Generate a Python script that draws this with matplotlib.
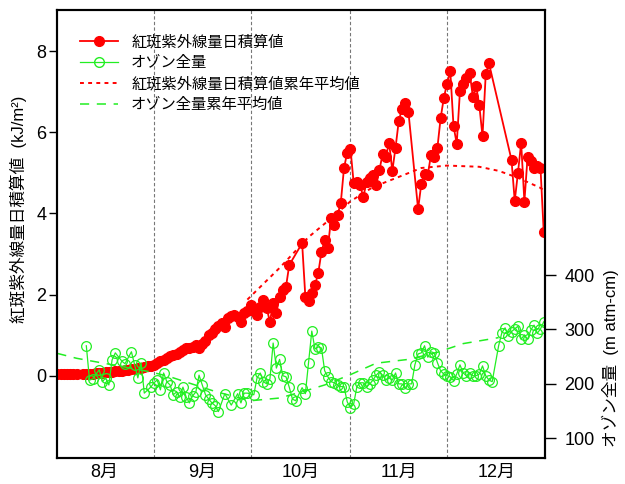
import numpy as np
import matplotlib
matplotlib.use('Agg')
import matplotlib.pyplot as plt
from matplotlib.lines import Line2D

plt.rcParams['font.family'] = ['Liberation Sans', 'Noto Sans CJK JP', 'DejaVu Sans']

# 日付は8月1日からの通日 (8/1 = 0)
uv_day = (list(range(1, 8)) + list(range(9, 74)) + list(range(77, 111))
          + list(range(113, 136)) + list(range(142, 153)))
uv_val = [0.05, 0.05, 0.05, 0.05, 0.05, 0.05, 0.05,
          0.05, 0.05, 0.06, 0.06, 0.07, 0.07, 0.08, 0.09, 0.10, 0.10, 0.11,
          0.12, 0.13, 0.14, 0.15, 0.16, 0.17, 0.19, 0.20, 0.22, 0.24, 0.25,
          # 9月
          0.28, 0.31, 0.36, 0.40, 0.44, 0.48, 0.52, 0.55, 0.60, 0.64,
          0.69, 0.68, 0.72, 0.75, 0.70, 0.78, 0.85, 1.00, 1.05, 1.15,
          1.22, 1.30, 1.20, 1.42, 1.48, 1.50, 1.45, 1.33, 1.55, 1.60,
          # 10月
          1.75, 1.60, 1.50, 1.70, 1.87, 1.67, 1.33, 1.80, 1.55, 1.95,
          2.12, 2.20, 2.73,
          3.27, 1.95, 1.85, 2.04, 2.24, 2.53, 3.05, 3.35, 3.15, 3.90,
          3.72, 3.97, 4.26, 5.12, 5.50, 5.60,
          # 11月
          4.75, 4.78, 4.70, 4.40, 4.78, 4.87, 4.95, 4.70, 5.07, 5.47,
          5.40, 5.74, 5.05, 5.62, 6.28, 6.58, 6.72, 6.50,
          4.11, 4.73, 4.98, 4.95, 5.44, 5.40, 5.62, 6.35, 6.85,
          # 12月
          7.20, 7.50, 6.15, 5.72, 7.02, 7.20, 7.33, 7.47, 6.88, 7.15,
          6.67, 5.90, 7.43, 7.70,
          5.32, 4.31, 5.00, 5.74, 4.29, 5.40, 5.30, 5.12, 5.17, 5.12, 3.55]

oz_day = [10, 11, 12, 14, 15, 16, 17, 18, 19, 21, 22, 24, 25, 26, 27, 28, 30,
          31, 32, 33, 34, 35, 36, 37, 38, 39, 40, 41, 42, 43, 44, 45, 46, 47,
          48, 49, 50, 51, 53, 55, 57, 58, 59, 60,
          62, 63, 64, 65, 66, 67, 68, 69, 70, 71, 72, 73, 74, 75, 77, 78, 79,
          80, 81, 82, 83, 84, 85, 86, 87, 88, 89, 90, 91,
          92, 93, 94, 95, 96, 97, 98, 99, 100, 101, 102, 103, 104, 105, 106,
          107, 108, 109, 110, 111, 112, 113, 114, 115, 116, 117, 118, 119,
          120, 121,
          122, 123, 124, 125, 126, 127, 128, 129, 130, 131, 132, 133, 134,
          135, 136, 138, 139, 140, 141, 142, 143, 144, 145, 146, 147, 148,
          149, 150, 151, 152]
oz_val = [270, 207, 209, 226, 204, 211, 198, 244, 257, 242, 237, 259, 235,
          211, 239, 183, 194,
          202, 207, 189, 220, 204, 198, 180, 185, 176, 194, 176, 165, 178,
          185, 216, 198, 180, 172, 165, 160, 149, 182, 161, 182, 165, 183,
          183,
          180, 211, 220, 204, 200, 209, 275, 229, 245, 215, 213, 194, 172,
          169, 193, 182, 239, 297, 264, 268, 266, 224, 213, 204, 202, 198,
          195, 195, 167,
          156, 163, 195, 202, 202, 195, 200, 207, 216, 222, 216, 207, 211,
          207, 220, 200, 200, 193, 200, 200, 235, 255, 257, 270, 249, 259,
          257, 239, 224, 218,
          215, 213, 206, 218, 235, 220, 215, 220, 215, 215, 218, 233, 215,
          207, 204, 270, 294, 303, 288, 296, 301, 306, 282, 290, 282, 299,
          308, 293, 301, 314]

# 累年平均値
uv_norm_day = [60, 70, 79, 86, 92, 99, 107, 114, 122, 132, 138, 144, 151, 152.4]
uv_norm_val = [1.88, 2.66, 3.42, 3.88, 4.30, 4.65, 4.90, 5.12, 5.18, 5.15,
               5.05, 4.88, 4.63, 4.55]
oz_norm_day = [1, 7, 20, 30, 36, 50, 61, 70, 79, 84, 92, 100, 110, 119, 127, 138]
oz_norm_val = [256, 247, 233, 222, 213, 186, 169, 174, 189, 198, 217, 238,
               245, 258, 274, 285]

month_start = [31, 61, 92, 122]
month_mid = [15.5, 46, 76.5, 107, 137.5]
month_lbl = ['8月', '9月', '10月', '11月', '12月']

uv_color = '#ff0000'
oz_color = '#22ee22'

fig = plt.figure(figsize=(6.25, 4.84), dpi=100)
ax1 = fig.add_axes([57 / 625, 26 / 484, 488 / 625, 448 / 484])
ax2 = ax1.twinx()

for d in month_start:
    ax1.axvline(d, color='#777777', lw=0.8, dashes=(3, 2), zorder=0)

ax1.plot(uv_norm_day, uv_norm_val, color=uv_color, lw=1.4, dashes=(2, 2.2),
         zorder=2)
ax1.plot(uv_day, uv_val, color=uv_color, lw=1.3, marker='o', ms=7,
         mfc=uv_color, mec=uv_color, zorder=3)

ax2.plot(oz_norm_day, oz_norm_val, color=oz_color, lw=1.1, dashes=(6, 5))
ax2.plot(oz_day, oz_val, color=oz_color, lw=0.9, marker='o', ms=7,
         mfc='none', mec=oz_color, mew=0.9)

ax1.set_xlim(0.9, 152.4)
ax1.set_ylim(-2.02, 9.01)
ax2.set_ylim(63.8, 887)

ax1.set_yticks([0, 2, 4, 6, 8])
ax2.set_yticks([100, 200, 300, 400])
ax1.set_xticks(month_mid)
ax1.set_xticklabels(month_lbl)

ax1.tick_params(axis='y', direction='out', length=6, width=1, labelsize=13, pad=1.5)
ax1.tick_params(axis='x', length=0, labelsize=13, pad=4)
ax2.tick_params(axis='y', direction='out', length=8, width=1, labelsize=13, pad=6)

for ax in (ax1, ax2):
    for s in ax.spines.values():
        s.set_linewidth(1.5)

ax1.set_ylabel('紅斑紫外線量日積算値  (kJ/m²)', fontsize=12)
ax1.yaxis.set_label_coords(-0.062, 0.554)
ax2.set_ylabel('オゾン全量  (m atm-cm)', fontsize=12)
ax2.yaxis.set_label_coords(1.117, 0.223)

handles = [
    Line2D([], [], color=uv_color, lw=1.3, marker='o', ms=7, mfc=uv_color, mec=uv_color),
    Line2D([], [], color=oz_color, lw=0.9, marker='o', ms=7, mfc='none', mec=oz_color),
    Line2D([], [], color=uv_color, lw=1.4, dashes=(2, 2.2)),
    Line2D([], [], color=oz_color, lw=1.1, dashes=(6, 5)),
]
labels = ['紅斑紫外線量日積算値', 'オゾン全量', '紅斑紫外線量日積算値累年平均値', 'オゾン全量累年平均値']
ax2.legend(handles, labels, loc='upper left', bbox_to_anchor=(0.047, 0.944),
           frameon=False, fontsize=11, handlelength=2.5, handletextpad=0.85,
           labelspacing=0.43, borderpad=0, borderaxespad=0)

fig.savefig('out.png', dpi=100)
